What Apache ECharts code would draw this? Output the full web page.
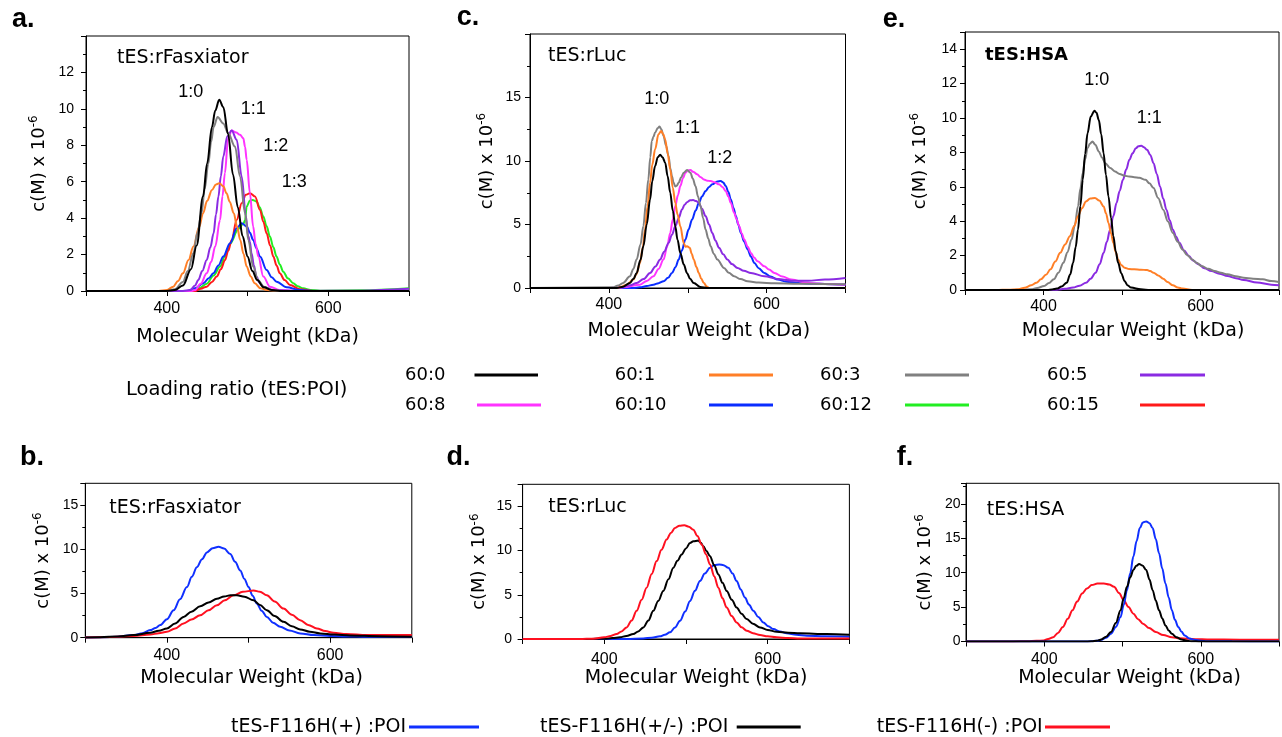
<!DOCTYPE html>
<html><head><meta charset="utf-8">
<script src="https://cdn.jsdelivr.net/npm/echarts@6/dist/echarts.min.js"></script>
<style>html,body{margin:0;padding:0;background:#fff}#c{width:1282px;height:737px}</style>
</head><body><div id="c"></div><script>
// ---------------- DATA ----------------
const xMin = 300, xMax = 700, xTickLabels = [400, 600];
const ratioNames = ['60:0','60:1','60:3','60:5','60:8','60:10','60:12','60:15'];
const mutantNames = ['tES-F116H(+) :POI','tES-F116H(+/-) :POI','tES-F116H(-) :POI'];
const panelTitles = ['tES:rFasxiator','tES:rLuc','tES:HSA','tES:rFasxiator','tES:rLuc','tES:HSA'];
const panelLetters = ['a.','c.','e.','b.','d.','f.'];
const ratioLabelsA = ['1:0','1:1','1:2','1:3'];
const ratioLabelsC = ['1:0','1:1','1:2'];
const ratioLabelsE = ['1:0','1:1'];

// panel a (tES:rFasxiator)
const a_60_0 = [[300,0],[400,0],[410,0.05],[420,0.3],[430,1.2],[437,2.5],[445,5.2],[450,7.0],[456,9.0],[460,9.9],[465,10.5],[470,10.1],[476,8.6],[482,6.4],[488,4.6],[494,3.0],[500,1.9],[506,1.1],[512,0.6],[520,0.2],[530,0.05],[540,0],[700,0]];
const a_60_1 = [[300,0],[390,0],[400,0.05],[408,0.24],[414,0.55],[420,0.97],[427,1.7],[433,2.44],[440,3.5],[445,4.27],[450,4.95],[456,5.55],[461,5.85],[465,5.92],[470,5.75],[474,5.37],[478,4.9],[483,4.27],[487,3.55],[491,2.8],[495,2.05],[499,1.34],[504,0.8],[509,0.42],[516,0.15],[524,0.05],[540,0],[700,0]];
const a_60_3 = [[300,0],[400,0],[410,0.1],[420,0.5],[426,1.1],[433,2.07],[438,3.2],[443,4.27],[447,5.6],[451.5,7.0],[455,8.2],[458,9.0],[463,9.55],[470,9.2],[476,8.67],[484.5,7.93],[490.7,6.29],[497,4.27],[501,2.8],[507,1.34],[513,0.6],[520,0.24],[530,0.05],[540,0],[700,0]];
const a_60_5 = [[300,0],[420,0],[429,0.05],[435,0.3],[439,0.6],[444,1.1],[449.5,1.7],[454,2.4],[458,3.17],[461,4.2],[464,5.19],[467,6.3],[470,7.39],[475,8.5],[480.4,8.81],[486.6,8.3],[492.8,6.29],[498,4.1],[501,3.0],[503,2.7],[505,2.07],[508,1.4],[511,0.79],[515,0.45],[520,0.24],[532,0.05],[560,0],[640,0.02],[700,0.12]];
const a_60_8 = [[300,0],[430,0],[435,0.05],[442,0.4],[449.5,0.97],[455,1.6],[460,2.44],[466,3.9],[469,5.2],[472,6.47],[476,8.39],[480.4,8.81],[486,8.7],[490.7,8.58],[494.8,8.39],[497,7.9],[499,7.2],[503,5.37],[507,3.54],[510,2.6],[513.4,1.89],[519.6,0.79],[527.8,0.24],[540,0.05],[560,0],[700,0]];
const a_60_10 = [[300,0],[425,0],[435,0.15],[445.4,0.42],[452,0.7],[457.7,0.97],[464,1.4],[470,1.89],[478.4,2.62],[486.6,3.45],[492.8,3.72],[499,3.54],[503,3.2],[507,2.8],[511,2.35],[515.5,1.89],[523.7,1.15],[530,0.75],[536,0.51],[548.5,0.2],[565,0.05],[580,0],[700,0]];
const a_60_12 = [[300,0],[429,0],[440,0.15],[449.5,0.4],[458,0.85],[466,1.34],[472,1.9],[478.4,2.6],[488.7,3.4],[495,3.7],[497,3.9],[499,4.64],[503,4.97],[506.4,5.0],[511.3,4.91],[515,4.6],[519.6,4.09],[523.7,3.55],[527.8,2.99],[532,2.4],[536,1.89],[540,1.45],[544.3,1.06],[550,0.7],[556.7,0.42],[562,0.26],[569,0.15],[578,0.06],[590,0.02],[640,0.04],[700,0.15]];
const a_60_15 = [[300,0],[435,0],[442,0.12],[449.5,0.24],[456,0.5],[461.9,0.79],[467,1.2],[472.2,1.7],[476,2.2],[480.4,2.8],[486.6,3.9],[492.8,4.82],[498,5.28],[503,5.37],[509.3,5.19],[515.5,4.45],[519.6,3.8],[523.7,3.17],[528,2.5],[532,1.89],[536,1.4],[540,0.97],[546,0.6],[552.6,0.33],[565,0.1],[581,0],[700,0]];

// panel c (tES:rLuc)
const c_60_0 = [[300,0],[410,0],[418,0.1],[426.7,0.4],[431,0.7],[435.2,1.18],[440,2.2],[443.7,3.29],[448,5.0],[452.2,6.97],[455,8.4],[458.6,9.6],[462,10.3],[465,10.5],[468,10.3],[471.4,9.87],[474.5,8.8],[477.8,7.5],[481,6.1],[484.2,4.87],[487,3.8],[490.6,2.76],[495,1.85],[499,1.18],[503,0.72],[507.6,0.39],[516,0.08],[525,0],[700,0]];
const c_60_1 = [[300,0],[410,0],[416,0.1],[422.4,0.26],[431,0.66],[435,1.1],[439.4,1.97],[443,3.2],[445.8,4.6],[449,6.4],[452.2,8.29],[455,9.7],[458.6,10.92],[462.9,12.1],[466.3,12.37],[469,12.1],[471.4,11.7],[474.5,10.6],[477.8,9.34],[481,7.9],[484.2,6.71],[487,5.8],[490.6,4.87],[494.9,3.55],[497,3.25],[499.1,3.29],[502.5,3.16],[505,2.7],[507.6,2.24],[511,1.65],[514,1.18],[517,0.75],[520.5,0.39],[524,0.12],[527,0],[700,0]];
const c_60_3 = [[300,0],[405,0.05],[412,0.2],[418,0.4],[426.7,0.92],[431,1.5],[435.2,2.24],[440,3.4],[443.7,4.87],[447,6.7],[450,8.55],[452.5,10.3],[454.4,11.58],[456.5,11.9],[458.6,12.24],[462,12.6],[464.2,12.71],[466.5,12.5],[469.3,11.97],[472.5,11.2],[475.7,10.39],[478,9.4],[480,8.8],[482,8.3],[484.2,8.0],[486,8.05],[488.5,8.29],[491.5,8.7],[494.9,9.08],[499.1,9.29],[503.4,9.08],[506.5,8.6],[509.8,8.03],[513,7.2],[516.2,6.45],[519.5,5.5],[522.6,4.6],[526,3.9],[529,3.29],[533,2.7],[537.5,2.24],[546,1.58],[552,1.2],[558.8,0.92],[567,0.7],[575.8,0.53],[590,0.43],[610,0.37],[640,0.34],[670,0.32],[700,0.3]];
const c_60_5 = [[300,0],[400,0],[410,0.03],[418,0.08],[427,0.22],[435.2,0.39],[444,0.7],[452.2,1.18],[459,1.7],[465,2.24],[470,2.85],[475.7,3.55],[480,4.2],[484.2,4.87],[488.5,5.5],[492.7,6.18],[496,6.55],[499.1,6.76],[503,6.9],[506.8,6.92],[510.5,6.85],[514.1,6.71],[518,6.25],[522.6,5.66],[527,5.0],[531.1,4.34],[535,3.75],[539.7,3.16],[545,2.65],[550.3,2.24],[556,1.88],[563.1,1.58],[571,1.35],[580.1,1.18],[597.1,0.92],[614.2,0.71],[631.3,0.58],[652.6,0.58],[673.9,0.66],[700,0.79]];
const c_60_8 = [[300,0],[410,0],[418,0.05],[439.4,0.26],[448,0.55],[456.5,0.92],[463,1.5],[469.3,2.24],[474,3.3],[477.8,4.34],[481,5.4],[484.2,6.45],[487.5,7.3],[490.6,8.03],[494,8.65],[497,9.08],[500,9.25],[503.4,9.29],[507,9.15],[511.9,8.95],[516,8.75],[520.5,8.55],[525,8.45],[529,8.42],[534,8.32],[539.7,8.16],[544,7.95],[548.2,7.63],[551.5,7.2],[554.6,6.71],[558.8,5.92],[562,5.4],[565.2,4.87],[568.5,4.3],[571.6,3.82],[576,3.25],[580.1,2.76],[584,2.4],[588.6,2.1],[597.1,1.71],[603,1.45],[609.9,1.18],[620,0.9],[631.3,0.66],[652.6,0.39],[673.9,0.32],[700,0.26]];
const c_60_10 = [[300,0],[430,0],[439.4,0.05],[448,0.15],[456.5,0.26],[463,0.38],[469.3,0.53],[475,0.8],[480,1.18],[484.5,1.65],[488.5,2.24],[492.5,2.95],[497,3.82],[501,4.6],[505.5,5.39],[510,6.1],[514.1,6.71],[518,7.2],[522.6,7.63],[527,7.95],[531.1,8.16],[537.5,8.39],[541.8,8.42],[545,8.3],[548.2,8.03],[551.5,7.55],[554.6,6.97],[558,6.3],[561,5.66],[564,5.0],[567.4,4.34],[571.5,3.65],[576,3.03],[580,2.48],[584.5,1.97],[590,1.55],[597.1,1.18],[605,0.9],[614.2,0.66],[625,0.5],[639.8,0.39],[660,0.33],[673.9,0.32],[700,0.26]];

// panel e (tES:HSA)
const e_60_0 = [[300,0],[405,0],[411,0.03],[417.2,0.08],[423,0.2],[429.5,0.42],[434,0.9],[437.7,1.58],[441,2.5],[443.9,3.51],[447,4.9],[450,6.41],[453,7.9],[456.1,9.11],[460.2,10.08],[464.8,10.42],[467.5,10.3],[470.5,9.88],[473.5,9.05],[476.6,7.95],[479.5,6.7],[482.8,5.44],[486,4.2],[489,3.13],[492,2.25],[495.1,1.58],[499,0.98],[503.3,0.52],[507,0.28],[511.5,0.14],[523.8,0.04],[536,0],[700,0]];
const e_60_1 = [[300,0],[340,0],[355,0.02],[368,0.04],[376,0.13],[384.4,0.27],[391,0.42],[396.7,0.62],[403,0.88],[409,1.2],[415,1.65],[421.3,2.16],[427.5,2.65],[433.6,3.13],[439,3.7],[443.9,4.29],[449,4.75],[454.1,5.15],[459.5,5.32],[465.6,5.35],[471,5.2],[476.6,4.86],[479.7,4.45],[482.8,3.9],[486,3.3],[489,2.74],[492,2.2],[495.1,1.78],[499,1.45],[503.3,1.29],[509,1.22],[515.6,1.2],[524,1.18],[532,1.16],[536,1.1],[540.2,1.0],[546,0.85],[552.5,0.66],[558,0.46],[564.8,0.27],[571,0.15],[577,0.08],[589.3,0],[700,0]];
const e_60_3 = [[300,0],[360,0],[372,0.02],[384.4,0.04],[392,0.12],[400.8,0.23],[407,0.4],[413.1,0.62],[419,1.0],[425.4,1.58],[430.5,2.2],[435.7,2.93],[440,3.8],[443.9,4.86],[447,5.9],[450,6.8],[453,7.6],[456.1,8.24],[459,8.5],[462.3,8.63],[466,8.45],[470.5,8.05],[474.5,7.7],[478.7,7.37],[485,7.1],[491,6.89],[497,6.75],[503.3,6.64],[509,6.6],[515.6,6.56],[522,6.52],[530,6.41],[535,6.2],[540.2,5.93],[546,5.35],[552.5,4.67],[558.5,3.98],[564.8,3.32],[571,2.8],[577,2.36],[583,2.03],[589.3,1.78],[595,1.58],[601.6,1.39],[610,1.23],[618,1.1],[626,1.0],[634.4,0.91],[645,0.8],[654.9,0.71],[667,0.66],[679.5,0.62],[690,0.52],[700,0.46]];
const e_60_5 = [[300,0],[410,0],[417.2,0.02],[427,0.07],[437.7,0.14],[446,0.25],[454.1,0.42],[460,0.65],[466.4,1.0],[471.5,1.5],[476.6,2.16],[480.7,2.8],[484.8,3.51],[489,4.3],[493,5.06],[497,5.75],[501.2,6.41],[505.3,7.0],[509.4,7.57],[513.5,7.95],[517.6,8.24],[521,8.36],[524.6,8.38],[528,8.3],[532,8.15],[536,7.85],[540.2,7.37],[544.3,6.75],[548.4,6.02],[552.5,5.32],[556.6,4.67],[560.7,4.05],[564.8,3.51],[569,3.1],[573,2.74],[579,2.3],[585.2,1.97],[591,1.7],[597.5,1.49],[605,1.27],[613.9,1.1],[624,0.94],[634.4,0.81],[645,0.69],[654.9,0.58],[672,0.44],[690.2,0.31],[700,0.27]];

// panel b (tES:rFasxiator, mutants)
const b_plus = [[300,0.02],[320,0.05],[340,0.12],[359.2,0.3],[370,0.5],[379.6,0.86],[386,1.1],[391.8,1.43],[400,2.1],[408.2,3.11],[416,4.35],[424.5,5.74],[430.5,6.9],[436.7,7.99],[443,8.9],[449,9.67],[456,10.15],[463.3,10.31],[470,10.1],[477.6,9.49],[483.5,8.6],[489.8,7.61],[495,6.65],[500,5.74],[505,4.75],[510.2,3.86],[516,3.05],[522.4,2.36],[530,1.7],[538.8,1.24],[550,0.82],[563.3,0.49],[580,0.3],[600,0.19],[620,0.15],[644.9,0.11],[700,0.11]];
const b_pm = [[300,0.02],[318.4,0.04],[340,0.15],[359.2,0.3],[379.6,0.56],[390,0.78],[400,1.05],[410,1.6],[420.4,2.36],[430,2.95],[440.8,3.56],[451,4.0],[461.2,4.42],[470,4.68],[478,4.8],[485.7,4.8],[495,4.65],[506.1,4.24],[514,3.7],[522.4,3.11],[532,2.45],[542.9,1.8],[553,1.3],[563.3,0.94],[575,0.68],[587.8,0.49],[605,0.36],[624.5,0.26],[660,0.17],[700,0.11]];
const b_minus = [[300,0.02],[330,0.08],[359.2,0.19],[379.6,0.37],[390,0.5],[400,0.67],[410,1.05],[420.4,1.61],[430,2.05],[440.8,2.55],[451,3.1],[461.2,3.67],[471,4.25],[481.6,4.8],[493,5.2],[506.1,5.36],[514,5.2],[522.4,4.8],[532,4.1],[542.9,3.3],[553,2.6],[563.3,1.99],[573,1.45],[583.7,1.05],[594,0.75],[604.1,0.56],[620,0.42],[644.9,0.3],[700,0.3]];

// panel d (tES:rLuc, mutants)
const d_plus = [[300,0],[420,0],[427.3,0.01],[447.8,0.07],[458,0.15],[468.2,0.3],[474,0.48],[480.4,0.75],[486.5,1.3],[492.7,2.06],[499,3.1],[504.9,4.31],[511,5.45],[517.1,6.56],[523,7.4],[529.4,8.06],[535,8.38],[540.8,8.44],[546,8.35],[551.8,8.06],[557,7.4],[562,6.56],[567,5.6],[572.2,4.69],[577,3.9],[582.4,3.19],[588.5,2.5],[594.7,1.87],[600.8,1.45],[607,1.12],[615,0.85],[623.3,0.64],[635,0.48],[647.8,0.37],[670,0.3],[700,0.26]];
const d_pm = [[300,0],[380,0],[400,0.04],[410,0.1],[419.2,0.19],[427,0.35],[435.5,0.56],[441.5,0.85],[447.8,1.31],[454,2.1],[460,3.19],[466,4.3],[472.2,5.44],[478.5,6.75],[484.5,8.06],[489.5,8.85],[494.7,9.56],[500,10.25],[504.9,10.87],[509,11.05],[515.1,11.14],[518,10.9],[521.2,10.5],[525,9.95],[529.4,9.37],[534.5,8.35],[539.6,7.31],[544.7,6.35],[549.8,5.44],[556,4.45],[562,3.56],[568,2.85],[574.3,2.25],[582,1.72],[590.6,1.31],[600,1.02],[611,0.82],[625,0.72],[639.6,0.64],[672.2,0.56],[700,0.49]];
const d_minus = [[300,0],[370,0],[386.5,0.04],[400,0.19],[408,0.35],[415.1,0.56],[421,0.85],[427.3,1.31],[433.5,2.1],[439.6,3.19],[445.7,4.45],[451.8,5.81],[458,7.35],[464.1,8.81],[470,10.1],[476.3,11.25],[481.5,12.0],[486.5,12.56],[492,12.82],[498,12.86],[503.5,12.7],[509,12.37],[514,11.65],[519.2,10.69],[524.3,9.6],[529.4,8.44],[534.5,7.1],[539.6,5.81],[544.7,4.6],[549.8,3.56],[556,2.6],[562,1.87],[568,1.32],[574.3,0.94],[582,0.65],[590.6,0.45],[600,0.3],[611,0.19],[625,0.11],[639.6,0.07],[700,0.07]];

// panel f (tES:HSA, mutants)
const f_plus = [[300,0],[450,0],[460.7,0.02],[467,0.1],[473,0.24],[479,0.55],[485.2,1.12],[491.5,2.1],[497.5,3.56],[501.5,5.3],[505.7,7.46],[509.8,9.9],[513.9,12.34],[518,14.6],[522.1,16.49],[526,17.3],[530.3,17.46],[534.5,17.2],[538.5,16.49],[542.5,14.9],[546.7,12.83],[550.8,10.6],[554.9,8.44],[559,6.4],[563.1,4.54],[567,3.15],[571.3,2.1],[575.5,1.4],[579.5,0.88],[585.5,0.45],[591.8,0.24],[600,0.1],[608.2,0.05],[640,0.02],[700,0]];
const f_pm = [[300,0],[450,0],[460.7,0.02],[467,0.12],[473,0.29],[479,0.7],[485.2,1.37],[491.5,2.7],[497.5,4.54],[501.5,6.3],[505.7,7.95],[509.8,9.3],[513.9,10.39],[517.5,11.0],[521.3,11.27],[525.5,11.05],[530.3,10.39],[534.5,9.0],[538.5,7.46],[542.5,5.95],[546.7,4.54],[550.8,3.35],[554.9,2.34],[559,1.6],[563.1,1.12],[569,0.6],[575.4,0.29],[581,0.13],[587.7,0.05],[600,0],[700,0]];
const f_minus = [[300,0],[360,0.01],[378.7,0.05],[390,0.1],[399.2,0.15],[405,0.35],[411.5,0.63],[417.5,1.25],[423.8,2.1],[430,3.3],[436.1,4.54],[442,5.8],[448.4,6.98],[454.5,7.7],[460.7,8.2],[468,8.42],[476.2,8.44],[483,8.3],[489.3,7.95],[495.5,7.05],[501.6,6.0],[507.7,5.0],[513.9,4.05],[520,3.25],[526.2,2.59],[534,1.95],[542.6,1.37],[552,0.95],[563.1,0.63],[573,0.48],[583.6,0.39],[595,0.33],[608.2,0.29],[650,0.26],[700,0.24]];

// ---------------- STYLE / LAYOUT ----------------
const ratioColors = {'60:0':'#000000','60:1':'#ff7f27','60:3':'#808080','60:5':'#8a2be2','60:8':'#ff33ff','60:10':'#0a2dff','60:12':'#22ee22','60:15':'#ff1a1a'};
const mutantColors = ['#1030ff','#000000','#ff1020'];
const WORD = 'DejaVu Sans', NUM = 'Liberation Sans';

const panels = [
  {grid:{left:86,top:36,width:323,height:255}, yMax:14, yInt:2, yLM:12, xLM:10, xGap:37, yGap:36, xPad:0,
   series:[['60:12',a_60_12],['60:15',a_60_15],['60:10',a_60_10],['60:8',a_60_8],['60:5',a_60_5],['60:1',a_60_1],['60:3',a_60_3],['60:0',a_60_0]]},
  {grid:{left:530,top:34,width:315.5,height:254}, yMax:20, yInt:5, yLM:9, xLM:9, xGap:34, yGap:32, xPad:22,
   series:[['60:10',c_60_10],['60:8',c_60_8],['60:5',c_60_5],['60:3',c_60_3],['60:1',c_60_1],['60:0',c_60_0]]},
  {grid:{left:965,top:32,width:326.5,height:258}, yMax:15, yInt:2, yLM:8, xLM:8.5, xGap:32, yGap:34, xPad:22,
   series:[['60:5',e_60_5],['60:3',e_60_3],['60:1',e_60_1],['60:0',e_60_0]]},
  {grid:{left:85.3,top:483.3,width:326.5,height:154.4}, yMax:17.5, yInt:5, yLM:7, xLM:10, xGap:31, yGap:31, xPad:6,
   series:[[mutantNames[0],b_plus,0],[mutantNames[2],b_minus,2],[mutantNames[1],b_pm,1]]},
  {grid:{left:522.6,top:484.3,width:326.8,height:154.7}, yMax:17.5, yInt:5, yLM:10.5, xLM:13, xGap:29, yGap:32, xPad:20,
   series:[[mutantNames[0],d_plus,0],[mutantNames[1],d_pm,1],[mutantNames[2],d_minus,2]]},
  {grid:{left:966,top:483.3,width:325.4,height:158.2}, yMax:23, yInt:5, yLM:5.5, xLM:10, xGap:26, yGap:30, xPad:14,
   series:[[mutantNames[2],f_minus,2],[mutantNames[0],f_plus,0],[mutantNames[1],f_pm,1]]}
];

const letterPos = [[12,20],[456.7,17.5],[882.7,20],[20,457.5],[446.5,457.5],[896.7,457.5]];
const titlePos = [[117,58.4,false],[548,55.7,false],[985,55.4,true],[109.3,508.4,false],[548.3,507.4,false],[986.7,510,false]];
const ratioLabelPos = [
  [ratioLabelsA, [[178.3,92],[240.7,108.7],[263.3,146.4],[281.7,182]]],
  [ratioLabelsC, [[644.3,98.7],[675,127.7],[707.3,157.7]]],
  [ratioLabelsE, [[1084.3,80.4],[1136.7,117.7]]]
];
const topLegendPos = [[405,474.5,538,375],[614.7,709,773,375],[820,905,969,375],[1047,1140,1205,375],
                      [405,477,541,405],[614.7,709,773,405],[820,905,969,405],[1047,1140,1205,405]];
const bottomLegendPos = [[231,409,479,727],[540,736.7,800.7,727],[876.7,1045,1110,727]];

// ---------------- BUILD ----------------
const grids=[], xAxes=[], yAxes=[], series=[], graphics=[];
panels.forEach((p,i)=>{
  grids.push(Object.assign({show:true,borderColor:'#000',borderWidth:1,backgroundColor:'transparent'},p.grid));
  xAxes.push({type:'value',gridIndex:i,min:xMin,max:xMax,interval:100,
    name:'Molecular Weight (kDa)',nameLocation:'middle',nameGap:p.xGap,
    nameTextStyle:{fontFamily:WORD,fontSize:19,color:'#000',padding:[0,0,0,p.xPad]},
    axisLine:{onZero:false,lineStyle:{color:'#000',width:1}},
    axisTick:{show:true,length:5,lineStyle:{color:'#000'}},
    axisLabel:{margin:p.xLM,fontFamily:NUM,fontSize:16,color:'#000',
      formatter:v=>xTickLabels.indexOf(v)>=0?String(v):''},
    splitLine:{show:false}});
  yAxes.push({type:'value',gridIndex:i,min:0,max:p.yMax,interval:p.yInt,
    name:'c(M) x 10{sup|-6}',nameLocation:'middle',nameGap:p.yGap,
    nameTextStyle:{fontFamily:WORD,fontSize:18,color:'#000',
      rich:{sup:{fontFamily:WORD,fontSize:12,color:'#000',padding:[0,0,10,0]}}},
    axisLine:{show:true,lineStyle:{color:'#000',width:1}},
    axisTick:{show:true,length:5,lineStyle:{color:'#000'}},
    minorTick:{show:true,splitNumber:2,length:3,lineStyle:{color:'#000'}},
    axisLabel:{margin:p.yLM,fontFamily:NUM,fontSize:14,color:'#000',showMaxLabel:false},
    splitLine:{show:false}});
  p.series.forEach(s=>{
    const color = s.length>2 ? mutantColors[s[2]] : ratioColors[s[0]];
    series.push({type:'line',name:s[0],xAxisIndex:i,yAxisIndex:i,data:s[1],
      showSymbol:false,symbol:'none',smooth:0.35,smoothMonotone:'x',clip:true,silent:true,
      lineStyle:{color:color,width:2},itemStyle:{color:color}});
  });
  graphics.push({type:'text',x:letterPos[i][0],y:letterPos[i][1],silent:true,
    style:{text:panelLetters[i],fontFamily:NUM,fontSize:27,fontWeight:'bold',fill:'#000',align:'left',verticalAlign:'middle',textAlign:'left',textVerticalAlign:'middle'}});
  graphics.push({type:'text',x:titlePos[i][0],y:titlePos[i][1],silent:true,
    style:{text:panelTitles[i],fontFamily:WORD,fontSize:titlePos[i][2]?18:19,fontWeight:titlePos[i][2]?'bold':'normal',fill:'#000',align:'left',verticalAlign:'middle',textAlign:'left',textVerticalAlign:'middle'}});
});
ratioLabelPos.forEach(([labels,pos])=>{
  labels.forEach((t,k)=>graphics.push({type:'text',x:pos[k][0],y:pos[k][1],silent:true,
    style:{text:t,fontFamily:NUM,fontSize:18,fill:'#000',align:'left',verticalAlign:'middle',textAlign:'left',textVerticalAlign:'middle'}}));
});
graphics.push({type:'text',x:126,y:390,silent:true,
  style:{text:'Loading ratio (tES:POI)',fontFamily:WORD,fontSize:19.5,fill:'#000',align:'left',verticalAlign:'middle',textAlign:'left',textVerticalAlign:'middle'}});
ratioNames.forEach((n,k)=>{
  const q=topLegendPos[k];
  graphics.push({type:'text',x:q[0],y:q[3],silent:true,
    style:{text:n,fontFamily:WORD,fontSize:18,fill:'#000',align:'left',verticalAlign:'middle',textAlign:'left',textVerticalAlign:'middle'}});
  graphics.push({type:'line',silent:true,shape:{x1:q[1],y1:q[3],x2:q[2],y2:q[3]},style:{stroke:ratioColors[n],lineWidth:3}});
});
mutantNames.forEach((n,k)=>{
  const q=bottomLegendPos[k];
  graphics.push({type:'text',x:q[0],y:q[3],silent:true,
    style:{text:n,fontFamily:WORD,fontSize:19,fill:'#000',align:'left',verticalAlign:'middle',textAlign:'left',textVerticalAlign:'middle'}});
  graphics.push({type:'line',silent:true,shape:{x1:q[1],y1:q[3],x2:q[2],y2:q[3]},style:{stroke:mutantColors[k],lineWidth:3}});
});

const chart = echarts.init(document.getElementById('c'),null,{renderer:'canvas',width:1282,height:737});
chart.setOption({animation:false,backgroundColor:'#fff',grid:grids,xAxis:xAxes,yAxis:yAxes,series:series,graphic:graphics});
</script></body></html>
